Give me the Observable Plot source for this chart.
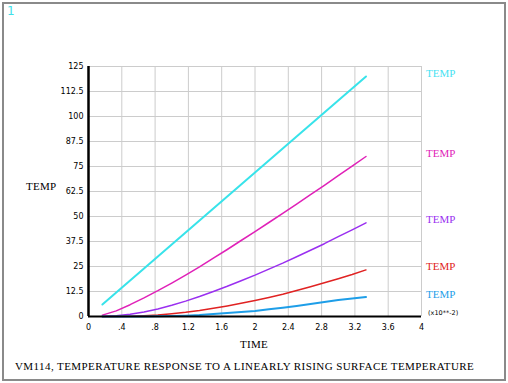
<!DOCTYPE html>
<html>
<head>
<meta charset="utf-8">
<script src="https://cdn.jsdelivr.net/npm/d3@7"></script>
<script src="https://cdn.jsdelivr.net/npm/@observablehq/plot@0.6"></script>
<style>
  html, body { margin: 0; padding: 0; background: #fff; }
  #wrap { position: relative; width: 508px; height: 383px; overflow: hidden; }
  #wrap svg { position: absolute; left: 0; top: 0; }
  .ov { position: absolute; white-space: nowrap; font-family: "Liberation Serif", serif; color: #000; }
</style>
</head>
<body>
<div id="wrap">
  <div class="ov" style="left:2px;top:2px;width:500px;height:375px;border:2px solid #8a8a8a;"></div>
  <div class="ov" style="left:7px;top:4px;font-family:'DejaVu Sans',sans-serif;font-size:12px;color:#40e0e8;">1</div>
  <div class="ov" id="ylab" style="left:26px;top:180px;font-size:11px;letter-spacing:0.3px;">TEMP</div>
  <div class="ov" id="xlab" style="left:240px;top:338px;font-size:11px;letter-spacing:0.3px;">TIME</div>
  <div class="ov" style="left:428px;top:309px;font-family:'DejaVu Sans',sans-serif;font-size:6.5px;">(x10**-2)</div>
  <div class="ov" id="title" style="left:15px;top:360px;font-size:11px;letter-spacing:0.42px;">VM114, TEMPERATURE RESPONSE TO A LINEARLY RISING SURFACE TEMPERATURE</div>
</div>
<script>
// ---- data ----
const times = [0.1667, 0.3333, 0.5, 0.6667, 0.8333, 1.0, 1.1667, 1.3333, 1.5, 1.6667,
               1.8333, 2.0, 2.1667, 2.3333, 2.5, 2.6667, 2.8333, 3.0, 3.1667, 3.3333];
const tempCyan    = [6, 12, 18, 24, 30, 36, 42, 48, 54, 60, 66, 72, 78, 84, 90, 96, 102, 108, 114, 120];
const tempMagenta = [0.7, 2.8, 5.9, 9.3, 12.9, 16.7, 20.7, 24.8, 29.2, 33.5, 38.0, 42.4, 47.0, 51.6, 56.2, 60.9, 65.6, 70.4, 75.2, 80.0];
const tempPurple  = [0.05, 0.4, 1.1, 2.2, 3.8, 5.6, 7.7, 10.0, 12.5, 15.1, 17.9, 20.7, 23.7, 26.7, 29.9, 33.1, 36.4, 39.9, 43.3, 46.8];
const tempRed     = [0, 0.05, 0.15, 0.4, 0.8, 1.4, 2.1, 3.0, 4.1, 5.3, 6.6, 8.0, 9.5, 11.1, 13.0, 14.9, 16.9, 18.9, 21.0, 23.3];
const tempBlue    = [0, 0, 0.02, 0.05, 0.1, 0.2, 0.4, 0.7, 1.3, 1.8, 2.3, 2.8, 3.6, 4.4, 5.3, 6.2, 7.2, 8.2, 9.0, 9.7];
const seriesNames = ["TEMP", "TEMP", "TEMP", "TEMP", "TEMP"];
const seriesColors = ["#38e3ea", "#e021b8", "#9a2ff0", "#e02222", "#1e9ee8"];
const labelColors  = ["#46e2f2", "#e021b8", "#9a2ff0", "#e02222", "#1e9ee8"];
const xTicks = [0, 0.4, 0.8, 1.2, 1.6, 2.0, 2.4, 2.8, 3.2, 3.6, 4.0];
const xTickLabels = ["0", ".4", ".8", "1.2", "1.6", "2", "2.4", "2.8", "3.2", "3.6", "4"];
const yTicks = [0, 12.5, 25, 37.5, 50, 62.5, 75, 87.5, 100, 112.5, 125];
const yTickLabels = ["0", "12.5", "25", "37.5", "50", "62.5", "75", "87.5", "100", "112.5", "125"];

const allSeries = [tempCyan, tempMagenta, tempPurple, tempRed, tempBlue];
const rows = [];
allSeries.forEach((vals, s) => vals.forEach((v, j) => rows.push({t: times[j], v, s})));
const lastRows = allSeries.map((vals, s) => ({t: times[times.length - 1], v: vals[vals.length - 1], s}));

const marks = [
  Plot.gridX(xTicks, {stroke: "#cccccc", strokeOpacity: 1, strokeWidth: 1}),
  Plot.gridY(yTicks, {stroke: "#cccccc", strokeOpacity: 1, strokeWidth: 1}),
  Plot.axisX(xTicks, {tickSize: 0, tickPadding: 8, tickFormat: d => xTickLabels[xTicks.indexOf(d)], label: null, fontSize: 8}),
  Plot.axisY(yTicks, {tickSize: 0, tickPadding: 5, tickFormat: d => yTickLabels[yTicks.indexOf(d)], label: null, fontSize: 8}),
];
allSeries.forEach((vals, s) => {
  marks.push(Plot.line(rows.filter(r => r.s === s), {
    x: "t", y: "v", stroke: seriesColors[s], strokeWidth: (s === 0 || s === 4) ? 2 : 1.5, curve: "linear"
  }));
});
marks.push(Plot.ruleX([0], {y1: 0, y2: 125, stroke: "#000", strokeWidth: 2.5}));
marks.push(Plot.ruleY([0], {x1: 0, x2: 4, stroke: "#000", strokeWidth: 2}));
marks.push(Plot.text(lastRows, {
  x: "t", y: "v", text: d => seriesNames[d.s], fill: d => labelColors[d.s],
  textAnchor: "start", dx: 60, dy: -3, fontSize: 11, fontFamily: "Liberation Serif"
}));

const chart = Plot.plot({
  width: 508, height: 383,
  marginLeft: 88, marginRight: 87, marginTop: 66, marginBottom: 67,
  x: {domain: [0, 4]},
  y: {domain: [0, 125]},
  color: {type: "identity"},
  style: {background: "transparent", fontFamily: "'DejaVu Sans', sans-serif", fontSize: "8px", color: "#000"},
  marks
});
document.getElementById("wrap").insertBefore(chart, document.getElementById("wrap").firstChild);
</script>
</body>
</html>
